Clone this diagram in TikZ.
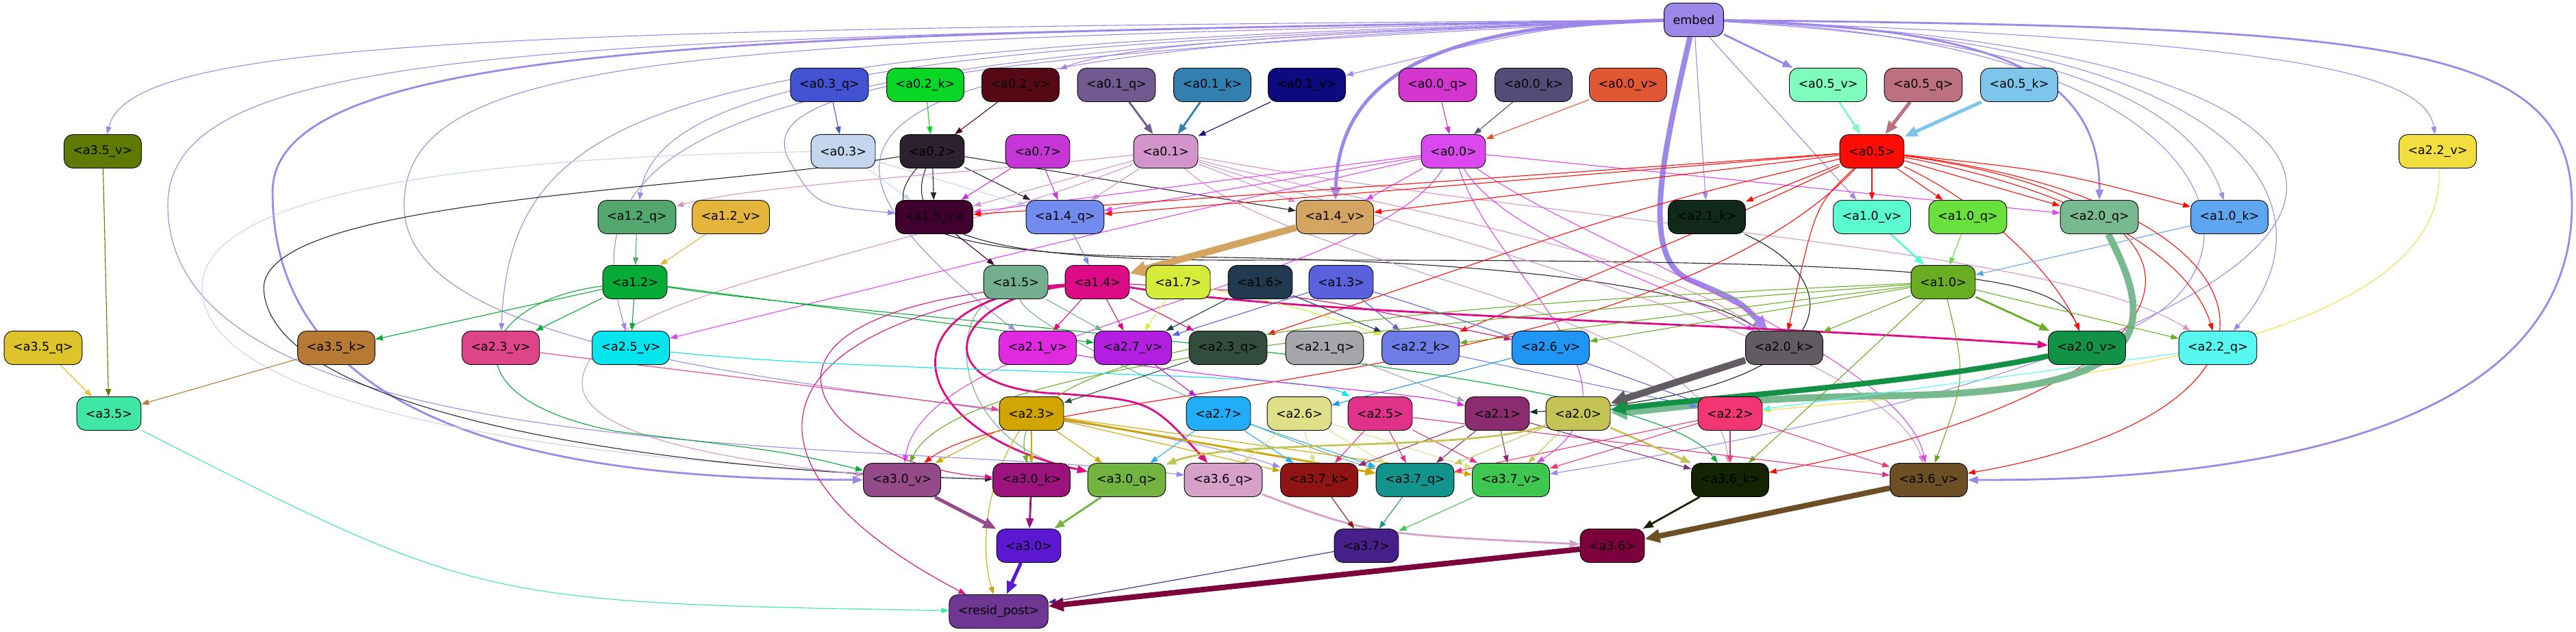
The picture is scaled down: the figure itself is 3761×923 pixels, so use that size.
\documentclass[tikz,border=0pt]{standalone}
\usepackage{fontspec}
\setmainfont{DejaVu Sans}
\usetikzlibrary{arrows.meta}
\pgfdeclarelayer{edges}
\pgfsetlayers{edges,main}

\definecolor{cemb}{HTML}{9D88EA}
\definecolor{ca03q}{HTML}{4352D1}
\definecolor{ca02k}{HTML}{0AD626}
\definecolor{ca02v}{HTML}{560815}
\definecolor{ca01q}{HTML}{715A8F}
\definecolor{ca01k}{HTML}{327FB0}
\definecolor{ca01v}{HTML}{0D0A80}
\definecolor{ca00q}{HTML}{D435CD}
\definecolor{ca00k}{HTML}{514D76}
\definecolor{ca00v}{HTML}{DF5833}
\definecolor{ca05v}{HTML}{7FFBBD}
\definecolor{ca05q}{HTML}{BD7080}
\definecolor{ca05k}{HTML}{7DC5EA}
\definecolor{ca03}{HTML}{C3D6EE}
\definecolor{ca02}{HTML}{2C212F}
\definecolor{ca07}{HTML}{C636D6}
\definecolor{ca01}{HTML}{D394CB}
\definecolor{ca00}{HTML}{DC48EF}
\definecolor{ca05}{HTML}{FE0D07}
\definecolor{ca35v}{HTML}{5F7A00}
\definecolor{ca22v}{HTML}{F2DF3F}
\definecolor{ca12q}{HTML}{53A76E}
\definecolor{ca12v}{HTML}{E5B43A}
\definecolor{ca15v}{HTML}{3F0030}
\definecolor{ca14q}{HTML}{718CEE}
\definecolor{ca14v}{HTML}{D3A560}
\definecolor{ca21k}{HTML}{10291B}
\definecolor{ca10v}{HTML}{5BFBD2}
\definecolor{ca10q}{HTML}{6AE03C}
\definecolor{ca20q}{HTML}{79B990}
\definecolor{ca10k}{HTML}{5EA6EF}
\definecolor{ca12}{HTML}{06AA36}
\definecolor{ca15}{HTML}{72AE8F}
\definecolor{ca14}{HTML}{DD0A86}
\definecolor{ca17}{HTML}{D6EC3B}
\definecolor{ca16}{HTML}{223A4F}
\definecolor{ca13}{HTML}{5A61DD}
\definecolor{ca10}{HTML}{69AD23}
\definecolor{ca35q}{HTML}{DEC32D}
\definecolor{ca35k}{HTML}{B67A35}
\definecolor{ca23v}{HTML}{DE4488}
\definecolor{ca25v}{HTML}{06E4EE}
\definecolor{ca21v}{HTML}{E02AE2}
\definecolor{ca27v}{HTML}{B31FE0}
\definecolor{ca23q}{HTML}{324C3D}
\definecolor{ca21q}{HTML}{A4A6AB}
\definecolor{ca22k}{HTML}{6E7DE6}
\definecolor{ca26v}{HTML}{1F96F3}
\definecolor{ca20k}{HTML}{625C62}
\definecolor{ca20v}{HTML}{139147}
\definecolor{ca22q}{HTML}{56F8F0}
\definecolor{ca35}{HTML}{3EE8A4}
\definecolor{ca23}{HTML}{D1A500}
\definecolor{ca27}{HTML}{22ADF9}
\definecolor{ca26}{HTML}{DFDF89}
\definecolor{ca25}{HTML}{E03289}
\definecolor{ca21}{HTML}{8B2B70}
\definecolor{ca20}{HTML}{C3C356}
\definecolor{ca22}{HTML}{F23673}
\definecolor{ca30v}{HTML}{944A89}
\definecolor{ca30k}{HTML}{9D137E}
\definecolor{ca30q}{HTML}{72B43F}
\definecolor{ca36q}{HTML}{D6A0C8}
\definecolor{ca37k}{HTML}{911414}
\definecolor{ca37q}{HTML}{12948D}
\definecolor{ca37v}{HTML}{3EC650}
\definecolor{ca36k}{HTML}{142301}
\definecolor{ca36v}{HTML}{6C4F25}
\definecolor{ca30}{HTML}{5B18D0}
\definecolor{ca37}{HTML}{461F88}
\definecolor{ca36}{HTML}{7B003B}
\definecolor{crp}{HTML}{6F3694}

\begin{document}
\begin{tikzpicture}[x=1pt, y=-1pt,
    blk/.style = {draw, line width=0.9pt, rounded corners=13pt, minimum height=49pt,
                  inner xsep=13pt, font=\fontsize{17.5}{21}\selectfont},
    ln1/.style = {draw=#1, line width=1.1pt, -{Triangle[length=11pt,width=8pt]}},
    ln2/.style = {draw=#1, line width=2.8pt, -{Triangle[length=15pt,width=11pt]}},
    ln3/.style = {draw=#1, line width=5pt, -{Triangle[length=19pt,width=15pt]}},
    ln4/.style = {draw=#1, line width=8pt, -{Triangle[length=22pt,width=19pt]}},
    ln5/.style = {draw=#1, line width=10pt, -{Triangle[length=24pt,width=22pt]}}
    ]
    \useasboundingbox (0,0) rectangle (3761,923);

    % --- nodes, top to bottom ---
    \node[blk, fill=cemb] (embed) at (2473,29) {embed};

    \node[blk, fill=ca03q] (a03q) at (1211,124) {<a0.3\_q>};
    \node[blk, fill=ca02k] (a02k) at (1351,124) {<a0.2\_k>};
    \node[blk, fill=ca02v] (a02v) at (1490,124) {<a0.2\_v>};
    \node[blk, fill=ca01q] (a01q) at (1630,124) {<a0.1\_q>};
    \node[blk, fill=ca01k] (a01k) at (1770,124) {<a0.1\_k>};
    \node[blk, fill=ca01v] (a01v) at (1908,124) {<a0.1\_v>};
    \node[blk, fill=ca00q] (a00q) at (2099,124) {<a0.0\_q>};
    \node[blk, fill=ca00k] (a00k) at (2239,124) {<a0.0\_k>};
    \node[blk, fill=ca00v] (a00v) at (2377,124) {<a0.0\_v>};
    \node[blk, fill=ca05v] (a05v) at (2669,124) {<a0.5\_v>};
    \node[blk, fill=ca05q] (a05q) at (2808,124) {<a0.5\_q>};
    \node[blk, fill=ca05k] (a05k) at (2948,124) {<a0.5\_k>};

    \node[blk, fill=ca35v] (a35v) at (150,221) {<a3.5\_v>};
    \node[blk, fill=ca03] (a03) at (1231,221) {<a0.3>};
    \node[blk, fill=ca02] (a02) at (1361,221) {<a0.2>};
    \node[blk, fill=ca07] (a07) at (1515,221) {<a0.7>};
    \node[blk, fill=ca01] (a01) at (1702,221) {<a0.1>};
    \node[blk, fill=ca00] (a00) at (2122,221) {<a0.0>};
    \node[blk, fill=ca05] (a05) at (2733,221) {<a0.5>};
    \node[blk, fill=ca22v] (a22v) at (3559,221) {<a2.2\_v>};

    \node[blk, fill=ca12q] (a12q) at (930,317) {<a1.2\_q>};
    \node[blk, fill=ca12v] (a12v) at (1067,317) {<a1.2\_v>};
    \node[blk, fill=ca15v] (a15v) at (1364,317) {<a1.5\_v>};
    \node[blk, fill=ca14q] (a14q) at (1555,317) {<a1.4\_q>};
    \node[blk, fill=ca14v] (a14v) at (1949,317) {<a1.4\_v>};
    \node[blk, fill=ca21k] (a21k) at (2492,317) {<a2.1\_k>};
    \node[blk, fill=ca10v] (a10v) at (2733,317) {<a1.0\_v>};
    \node[blk, fill=ca10q] (a10q) at (2873,317) {<a1.0\_q>};
    \node[blk, fill=ca20q] (a20q) at (3065,317) {<a2.0\_q>};
    \node[blk, fill=ca10k] (a10k) at (3255,317) {<a1.0\_k>};

    \node[blk, fill=ca12] (a12) at (927,412) {<a1.2>};
    \node[blk, fill=ca15] (a15) at (1483,412) {<a1.5>};
    \node[blk, fill=ca14] (a14) at (1602,412) {<a1.4>};
    \node[blk, fill=ca17] (a17) at (1720,412) {<a1.7>};
    \node[blk, fill=ca16] (a16) at (1840,412) {<a1.6>};
    \node[blk, fill=ca13] (a13) at (1958,412) {<a1.3>};
    \node[blk, fill=ca10] (a10) at (2837,412) {<a1.0>};

    \node[blk, fill=ca35q] (a35q) at (63,508) {<a3.5\_q>};
    \node[blk, fill=ca35k] (a35k) at (491,508) {<a3.5\_k>};
    \node[blk, fill=ca23v] (a23v) at (731,508) {<a2.3\_v>};
    \node[blk, fill=ca25v] (a25v) at (921,508) {<a2.5\_v>};
    \node[blk, fill=ca21v] (a21v) at (1515,508) {<a2.1\_v>};
    \node[blk, fill=ca27v] (a27v) at (1654,508) {<a2.7\_v>};
    \node[blk, fill=ca23q] (a23q) at (1793,508) {<a2.3\_q>};
    \node[blk, fill=ca21q] (a21q) at (1934,508) {<a2.1\_q>};
    \node[blk, fill=ca22k] (a22k) at (2074,508) {<a2.2\_k>};
    \node[blk, fill=ca26v] (a26v) at (2264,508) {<a2.6\_v>};
    \node[blk, fill=ca20k] (a20k) at (2605,508) {<a2.0\_k>};
    \node[blk, fill=ca20v] (a20v) at (3047,508) {<a2.0\_v>};
    \node[blk, fill=ca22q] (a22q) at (3238,508) {<a2.2\_q>};

    \node[blk, fill=ca35] (a35) at (159,604) {<a3.5>};
    \node[blk, fill=ca23] (a23) at (1506,604) {<a2.3>};
    \node[blk, fill=ca27] (a27) at (1779,604) {<a2.7>};
    \node[blk, fill=ca26] (a26) at (1897,604) {<a2.6>};
    \node[blk, fill=ca25] (a25) at (2015,604) {<a2.5>};
    \node[blk, fill=ca21] (a21) at (2186,604) {<a2.1>};
    \node[blk, fill=ca20] (a20) at (2304,604) {<a2.0>};
    \node[blk, fill=ca22] (a22) at (2526,604) {<a2.2>};

    \node[blk, fill=ca30v] (a30v) at (1317,701) {<a3.0\_v>};
    \node[blk, fill=ca30k] (a30k) at (1506,701) {<a3.0\_k>};
    \node[blk, fill=ca30q] (a30q) at (1645,701) {<a3.0\_q>};
    \node[blk, fill=ca36q] (a36q) at (1786,701) {<a3.6\_q>};
    \node[blk, fill=ca37k] (a37k) at (1926,701) {<a3.7\_k>};
    \node[blk, fill=ca37q] (a37q) at (2066,701) {<a3.7\_q>};
    \node[blk, fill=ca37v] (a37v) at (2206,701) {<a3.7\_v>};
    \node[blk, fill=ca36k] (a36k) at (2526,701) {<a3.6\_k>};
    \node[blk, fill=ca36v] (a36v) at (2816,701) {<a3.6\_v>};

    \node[blk, fill=ca30] (a30) at (1502,797) {<a3.0>};
    \node[blk, fill=ca37] (a37) at (1995,797) {<a3.7>};
    \node[blk, fill=ca36] (a36) at (2354,797) {<a3.6>};

    \node[blk, fill=crp] (rp) at (1458,893) {<resid\_post>};

    \begin{pgfonlayer}{edges}
    % --- embed ---
    \draw[ln1=cemb] (embed) .. controls (700,42) and (190,60) .. (a35v);
    \draw[ln2=cemb] (embed) .. controls (1100,50) and (398,60) .. (398,280) .. controls (398,660) and (900,700) .. (a30v);
    \draw[ln1=cemb] (embed) .. controls (800,55) and (245,65) .. (245,300) .. controls (245,690) and (1300,640) .. (a36q);
    \draw[ln1=cemb] (embed) .. controls (1000,60) and (590,80) .. (590,300) .. controls (590,570) and (1500,560) .. (a37k);
    \draw[ln1=cemb] (embed) .. controls (1400,60) and (960,110) .. (a12q);
    \draw[ln1=cemb] (embed) .. controls (1000,65) and (745,140) .. (a23v);
    \draw[ln1=cemb] (embed) .. controls (1050,70) and (830,200) .. (a25v);
    \draw[ln1=cemb] (embed) .. controls (1300,80) and (1110,140) .. (1150,230) .. controls (1190,300) .. (a15v);
    \draw[ln1=cemb] (embed) .. controls (1250,70) and (1080,170) .. (a21v);
    \draw[ln1=cemb] (embed) .. controls (2250,40) .. (a01v);
    \draw[ln1=cemb] (embed) .. controls (2000,45) and (1650,60) .. (a02v);
    \draw[ln3=cemb] (embed) .. controls (2100,35) and (1955,110) .. (a14v);
    \draw[ln4=cemb] (embed) .. controls (2430,220) and (2390,380) .. (2470,410) .. controls (2540,440) .. (a20k);
    \draw[ln1=cemb] (embed) -- (a21k);
    \draw[ln1=cemb] (embed) -- (a10v);
    \draw[ln2=cemb] (embed) -- (a05v);
    \draw[ln2=cemb] (embed) .. controls (2900,40) and (3066,100) .. (a20q);
    \draw[ln1=cemb] (embed) .. controls (3000,60) and (3200,150) .. (a10k);
    \draw[ln1=cemb] (embed) .. controls (3300,60) and (3540,100) .. (a22v);
    \draw[ln1=cemb] (embed) .. controls (3250,60) and (3330,380) .. (a20v);
    \draw[ln1=cemb] (embed) .. controls (3350,60) and (3400,330) .. (a22q);
    \draw[ln1=cemb] (embed) .. controls (3650,70) and (3650,470) .. (a37v);
    \draw[ln2=cemb] (embed) .. controls (3500,40) and (3755,60) .. (3755,300) .. controls (3755,690) and (3100,701) .. (a36v);

    % --- into layer 0 ---
    \draw[ln1=ca03q] (a03q) -- (a03);
    \draw[ln1=ca02k] (a02k) -- (a02);
    \draw[ln1=ca02v] (a02v) -- (a02);
    \draw[ln2=ca01q] (a01q) -- (a01);
    \draw[ln2=ca01k] (a01k) -- (a01);
    \draw[ln1=ca01v] (a01v) -- (a01);
    \draw[ln1=ca00q] (a00q) -- (a00);
    \draw[ln1=ca00k] (a00k) -- (a00);
    \draw[ln1=ca00v] (a00v) -- (a00);
    \draw[ln2=ca05v] (a05v) -- (a05);
    \draw[ln3=ca05q] (a05q) -- (a05);
    \draw[ln3=ca05k] (a05k) -- (a05);

    % --- out of layer 0 ---
    \draw[ln1=ca03] (a03) -- (a15v);
    \draw[ln1=ca03] (a03) -- (a14q);
    \draw[ln1=ca03] (a03) .. controls (700,228) and (295,280) .. (295,420) .. controls (295,610) and (900,680) .. (a30k);
    \draw[ln1=ca02] (a02) -- (a15v);
    \draw[ln1=ca02] (a02) -- (a14q);
    \draw[ln1=ca02] (a02) -- (a14v);
    \draw[ln1=ca02] (a02) .. controls (1000,280) and (390,290) .. (385,420) .. controls (390,610) and (1000,690) .. (a30k);
    \draw[ln1=ca02] (a02) .. controls (1290,300) and (1300,372) .. (1700,375) .. controls (2200,378) and (2480,420) .. (a20k);
    \draw[ln1=ca02] (a02) .. controls (1320,330) and (1400,380) .. (1800,380) .. controls (2850,378) and (3000,400) .. (a20v);
    \draw[ln1=ca07] (a07) -- (a15v);
    \draw[ln1=ca07] (a07) -- (a14q);
    \draw[ln1=ca01] (a01) -- (a15v);
    \draw[ln1=ca01] (a01) -- (a14q);
    \draw[ln1=ca01] (a01) -- (a14v);
    \draw[ln1=ca01] (a01) .. controls (1400,255) and (1100,270) .. (a12q);
    \draw[ln1=ca01] (a01) .. controls (2000,300) and (2400,360) .. (a20k);
    \draw[ln1=ca01] (a01) .. controls (2300,330) and (3000,360) .. (a22q);
    \draw[ln1=ca01] (a01) .. controls (1900,400) and (2500,450) .. (a36k);
    \draw[ln1=ca01] (a01) .. controls (2100,350) and (2750,500) .. (a36v);
    \draw[ln1=ca01] (a01) .. controls (1300,380) and (850,430) .. (850,560) .. controls (850,650) and (1150,680) .. (a30v);
    \draw[ln1=ca00] (a00) -- (a14v);
    \draw[ln1=ca00] (a00) -- (a15v);
    \draw[ln1=ca00] (a00) -- (a14q);
    \draw[ln1=ca00] (a00) -- (a20q);
    \draw[ln1=ca00] (a00) .. controls (1600,340) .. (a25v);
    \draw[ln1=ca00] (a00) .. controls (2200,350) and (2450,420) .. (a20k);
    \draw[ln1=ca00] (a00) .. controls (2180,400) and (2420,560) .. (a37v);
    \draw[ln1=ca00] (a00) .. controls (2300,350) and (2780,520) .. (a36v);
    \draw[ln1=ca00] (a00) .. controls (2000,420) and (1350,480) .. (a30v);
    \draw[ln1=ca05] (a05) -- (a14v);
    \draw[ln1=ca05] (a05) -- (a14q);
    \draw[ln1=ca05] (a05) -- (a15v);
    \draw[ln1=ca05] (a05) -- (a21k);
    \draw[ln1=ca05] (a05) -- (a10v);
    \draw[ln1=ca05] (a05) -- (a10q);
    \draw[ln1=ca05] (a05) -- (a20q);
    \draw[ln1=ca05] (a05) .. controls (3000,250) .. (a10k);
    \draw[ln1=ca05] (a05) .. controls (2900,300) and (3000,400) .. (a20v);
    \draw[ln1=ca05] (a05) .. controls (3050,280) and (3200,380) .. (a22q);
    \draw[ln1=ca05] (a05) .. controls (3350,300) and (3400,600) .. (a36v);
    \draw[ln1=ca05] (a05) .. controls (3300,300) and (3250,560) .. (a36k);
    \draw[ln1=ca05] (a05) .. controls (2500,330) .. (a22k);
    \draw[ln1=ca05] (a05) .. controls (2400,300) .. (a23q);
    \draw[ln1=ca05] (a05) .. controls (2650,300) .. (a20k);
    \draw[ln1=ca05] (a05) .. controls (2400,570) and (1500,560) .. (a30v);

    % --- layer 1 ---
    \draw[ln1=ca12q] (a12q) -- (a12);
    \draw[ln1=ca12v] (a12v) -- (a12);
    \draw[ln1=ca15v] (a15v) -- (a15);
    \draw[ln1=ca14q] (a14q) -- (a14);
    \draw[ln5=ca14v] (a14v) -- (a14);
    \draw[ln2=ca10v] (a10v) -- (a10);
    \draw[ln1=ca10q] (a10q) -- (a10);
    \draw[ln1=ca10k] (a10k) -- (a10);
    \draw[ln1=ca22v] (a22v) .. controls (3580,520) and (2900,570) .. (a22);
    \draw[ln1=ca21k] (a21k) .. controls (2720,420) and (2680,580) .. (a21);
    \draw[ln5=ca20q] (a20q) .. controls (3150,480) and (3150,575) .. (2750,578) .. controls (2500,582) and (2420,600) .. (a20);

    \draw[ln1=ca12] (a12) -- (a35k);
    \draw[ln1=ca12] (a12) -- (a23v);
    \draw[ln1=ca12] (a12) -- (a25v);
    \draw[ln1=ca12] (a12) -- (a27v);
    \draw[ln1=ca12] (a12) .. controls (1300,470) and (2400,530) .. (a36k);
    \draw[ln1=ca12] (a12) .. controls (700,440) and (640,580) .. (900,630) .. controls (1150,660) .. (a30v);
    \draw[ln1=ca15] (a15) -- (a27v);
    \draw[ln1=ca15] (a15) .. controls (1380,480) and (1400,650) .. (a30q);
    \draw[ln1=ca15] (a15) .. controls (1500,480) and (1850,640) .. (a37q);
    \draw[ln1=ca14] (a14) -- (a21v);
    \draw[ln1=ca14] (a14) -- (a27v);
    \draw[ln1=ca14] (a14) -- (a23q);
    \draw[ln1=ca14] (a14) .. controls (1900,430) .. (a26v);
    \draw[ln2=ca14] (a14) .. controls (1900,460) and (2500,470) .. (a20v);
    \draw[ln2=ca14] (a14) .. controls (1280,440) and (1320,630) .. (a30q);
    \draw[ln2=ca14] (a14) .. controls (1380,440) and (1350,570) .. (1550,575) .. controls (1680,585) .. (a36q);
    \draw[ln1=ca14] (a14) .. controls (1000,450) and (1200,680) .. (a30k);
    \draw[ln1=ca14] (a14) .. controls (1100,470) and (1050,680) .. (rp);
    \draw[ln1=ca17] (a17) -- (a27v);
    \draw[ln1=ca17] (a17) .. controls (1900,450) .. (a22k);
    \draw[ln1=ca16] (a16) -- (a27v);
    \draw[ln1=ca16] (a16) -- (a22k);
    \draw[ln1=ca13] (a13) -- (a27v);
    \draw[ln1=ca13] (a13) -- (a22k);
    \draw[ln1=ca13] (a13) .. controls (2150,470) and (2400,560) .. (a22);
    \draw[ln1=ca10] (a10) -- (a20k);
    \draw[ln1=ca10] (a10) -- (a22k);
    \draw[ln1=ca10] (a10) -- (a26v);
    \draw[ln2=ca10] (a10) -- (a20v);
    \draw[ln1=ca10] (a10) -- (a22q);
    \draw[ln1=ca10] (a10) -- (a36k);
    \draw[ln1=ca10] (a10) .. controls (2870,550) .. (a36v);
    \draw[ln1=ca10] (a10) .. controls (2200,440) and (1450,480) .. (a30k);
    \draw[ln1=ca10] (a10) .. controls (2200,460) and (1400,520) .. (a30v);

    % --- layer 2 ---
    \draw[ln1=ca35q] (a35q) -- (a35);
    \draw[ln1=ca35v] (a35v) -- (a35);
    \draw[ln1=ca35k] (a35k) -- (a35);
    \draw[ln1=ca23v] (a23v) -- (a23);
    \draw[ln1=ca25v] (a25v) .. controls (1300,548) and (1900,540) .. (a25);
    \draw[ln1=ca21v] (a21v) .. controls (1800,560) and (2050,570) .. (a21);
    \draw[ln1=ca27v] (a27v) -- (a27);
    \draw[ln1=ca23q] (a23q) -- (a23);
    \draw[ln1=ca21q] (a21q) -- (a21);
    \draw[ln1=ca22k] (a22k) -- (a22);
    \draw[ln1=ca26v] (a26v) -- (a26);
    \draw[ln5=ca20k] (a20k) -- (a20);
    \draw[ln4=ca20v] (a20v) .. controls (2800,560) and (2500,580) .. (a20);
    \draw[ln1=ca22q] (a22q) -- (a22);

    \draw[ln1=ca23] (a23) -- (a30v);
    \draw[ln1=ca23] (a23) -- (a30k);
    \draw[ln1=ca23] (a23) -- (a30q);
    \draw[ln1=ca23] (a23) -- (a37k);
    \draw[ln2=ca23] (a23) -- (a37q);
    \draw[ln1=ca23] (a23) -- (a37v);
    \draw[ln1=ca23] (a23) .. controls (1440,700) and (1430,800) .. (rp);
    \draw[ln1=ca27] (a27) -- (a30q);
    \draw[ln1=ca27] (a27) -- (a37k);
    \draw[ln1=ca27] (a27) -- (a37q);
    \draw[ln1=ca26] (a26) -- (a36q);
    \draw[ln1=ca26] (a26) -- (a37k);
    \draw[ln1=ca26] (a26) -- (a37q);
    \draw[ln1=ca26] (a26) -- (a37v);
    \draw[ln1=ca25] (a25) -- (a37k);
    \draw[ln1=ca25] (a25) -- (a37q);
    \draw[ln1=ca25] (a25) -- (a37v);
    \draw[ln1=ca25] (a25) -- (a36v);
    \draw[ln1=ca21] (a21) -- (a37k);
    \draw[ln1=ca21] (a21) -- (a37q);
    \draw[ln1=ca21] (a21) -- (a37v);
    \draw[ln1=ca21] (a21) -- (a36k);
    \draw[ln2=ca20] (a20) .. controls (2150,660) and (1800,640) .. (a30q);
    \draw[ln1=ca20] (a20) -- (a37q);
    \draw[ln1=ca20] (a20) -- (a37v);
    \draw[ln2=ca20] (a20) -- (a36k);
    \draw[ln1=ca22] (a22) -- (a36k);
    \draw[ln1=ca22] (a22) -- (a36v);
    \draw[ln1=ca22] (a22) -- (a37v);
    \draw[ln1=ca22] (a22) -- (a37q);

    % --- layer 3 ---
    \draw[ln3=ca30v] (a30v) -- (a30);
    \draw[ln2=ca30k] (a30k) -- (a30);
    \draw[ln2=ca30q] (a30q) -- (a30);
    \draw[ln2=ca36q] (a36q) .. controls (2000,780) .. (a36);
    \draw[ln2=ca36k] (a36k) -- (a36);
    \draw[ln4=ca36v] (a36v) -- (a36);
    \draw[ln1=ca37k] (a37k) -- (a37);
    \draw[ln1=ca37q] (a37q) -- (a37);
    \draw[ln1=ca37v] (a37v) -- (a37);
    \draw[ln1=ca35] (a35) .. controls (700,880) .. (rp);
    \draw[ln3=ca30] (a30) -- (rp);
    \draw[ln1=ca37] (a37) -- (rp);
    \draw[ln4=ca36] (a36) -- (rp);
    \end{pgfonlayer}

\end{tikzpicture}
\end{document}
